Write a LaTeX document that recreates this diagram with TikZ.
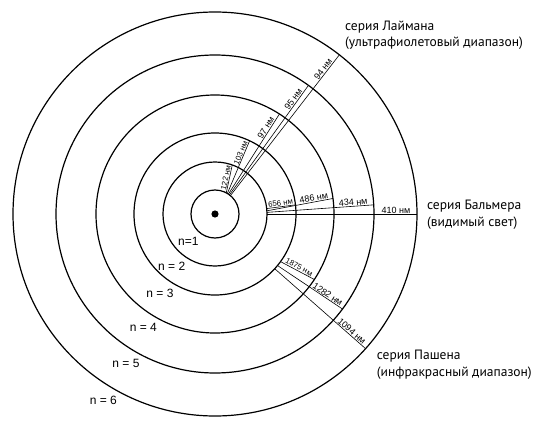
\documentclass[tikz,border=0pt]{standalone}
\usepackage{fontspec}
\setmainfont{Liberation Sans}
\newfontfamily\seriesfont{PT Sans}

\begin{document}
\begin{tikzpicture}[x=1pt,y=1pt,
    orbit/.style={line width=1.2pt},
    jump/.style={line width=0.6pt},
    wl/.style={font=\fontsize{9}{9}\selectfont, inner sep=0.6pt, sloped, above},
    wlsmall/.style={wl, font=\fontsize{7.8}{8}\selectfont},
    lvl/.style={font=\fontsize{12}{12}\selectfont, inner sep=0pt},
    series/.style={font=\seriesfont\fontsize{13.5}{16.5}\selectfont, align=left, anchor=west, inner sep=0pt}]
  \useasboundingbox (-215,-212) rectangle (334,214);
  % orbits
  \foreach \r in {24,52,81,119,159,202}
    \draw[orbit] (0,0) circle (\r);
  \fill (0,0) circle (3.6);
  % Lyman
  \draw[jump] (62:24) -- node[wlsmall, pos=0.52] {122 нм} (70.6:52);
  \draw[jump] (59:24) -- node[wlsmall, pos=0.75] {103 нм} (64.7:81);
  \draw[jump] (56:24) -- node[wl, pos=0.8] {97 нм} (57.2:119);
  \draw[jump] (53:24) -- node[wl, pos=0.85] {95 нм} (54:159);
  \draw[jump] (50:24) -- node[wl, pos=0.88] {94 нм} (52:202);
  % Balmer
  \draw[jump] (6:52) -- node[wlsmall, pos=0.5] {656 нм} (6.5:81);
  \draw[jump] (3.5:52) -- node[wl, pos=0.72] {486 нм} (7.5:119);
  \draw[jump] (1.8:52) -- node[wl, pos=0.81] {434 нм} (3.3:159);
  \draw[jump] (0:52) -- node[wl, pos=0.86] {410 нм} (0:202);
  % Paschen
  \draw[jump] (-36:81) -- node[wlsmall, pos=0.5] {1875 нм} (-33.4:119);
  \draw[jump] (-39.5:81) -- node[wl, pos=0.74] {1282 нм} (-36.7:159);
  \draw[jump] (-42.5:81) -- node[wl, pos=0.82] {1094 нм} (-41.8:202);
  % levels
  \node[lvl] (n1) at (-26.7,-27.7) {n=1};
  \node[lvl] (n2) at (-43.3,-52) {n = 2};
  \node[lvl] (n3) at (-55,-79.3) {n = 3};
  \node[lvl] (n4) at (-71.7,-113.3) {n = 4};
  \node[lvl] (n5) at (-89,-149.3) {n = 5};
  \node[lvl] (n6) at (-111.7,-186.7) {n = 6};
  % series
  \node[series] (lyman) at (130,179) {серия Лаймана\\(ультрафиолетовый диапазон)};
  \node[series] (balmer) at (212,-1) {серия Бальмера\\(видимый свет)};
  \node[series] (paschen) at (161.7,-151) {серия Пашена\\(инфракрасный диапазон)};
\end{tikzpicture}
\end{document}
